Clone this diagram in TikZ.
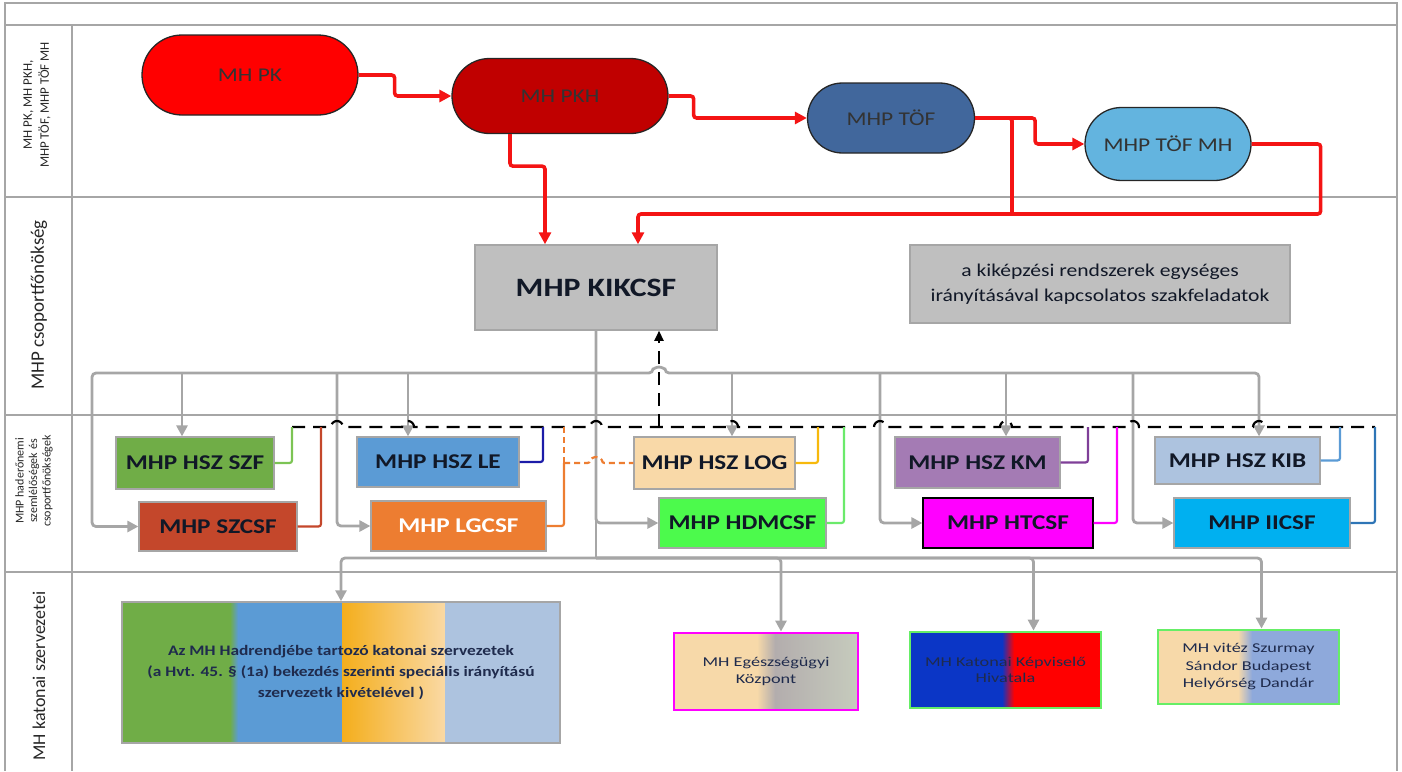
\documentclass[tikz,border=0pt]{standalone}
\usepackage{fontspec}
\setmainfont{Carlito}[FakeStretch=1.2]
\newfontfamily\lanefont{Carlito}
\newfontfamily\widefont{Carlito}[FakeStretch=1.35]
\usetikzlibrary{positioning,calc,shapes.misc,arrows.meta}

\definecolor{cframe}{HTML}{A6A6A6}
\definecolor{cred}{HTML}{F41414}
\definecolor{cpk}{HTML}{FF0000}
\definecolor{cpkh}{HTML}{C00000}
\definecolor{ctof}{HTML}{41679C}
\definecolor{ctofmh}{HTML}{63B4DF}
\definecolor{cbox}{HTML}{BFBFBF}
\definecolor{cink}{HTML}{111827}
\definecolor{cszf}{HTML}{70AD47}
\definecolor{cszcsf}{HTML}{C4472B}
\definecolor{cle}{HTML}{5B9BD5}
\definecolor{clg}{HTML}{ED7D31}
\definecolor{clog}{HTML}{F9D9A8}
\definecolor{chdm}{HTML}{4CFA4C}
\definecolor{ckm}{HTML}{A47BB4}
\definecolor{cht}{HTML}{FF00FF}
\definecolor{ckib}{HTML}{ADC3DF}
\definecolor{cii}{HTML}{00B0F0}
\definecolor{fszf}{HTML}{7CC454}
\definecolor{fle}{HTML}{1C1CA8}
\definecolor{flog}{HTML}{F7B90C}
\definecolor{fhdm}{HTML}{6BEA6B}
\definecolor{fkm}{HTML}{7F3F98}
\definecolor{fii}{HTML}{2E75B6}
\definecolor{cgold}{HTML}{F4AE1C}
\definecolor{cpeach}{HTML}{FAD9A4}
\definecolor{cwarm}{HTML}{F7D9A9}
\definecolor{cgraybrown}{HTML}{B3ADAD}
\definecolor{csage}{HTML}{C6CBBD}
\definecolor{croyal}{HTML}{0B36C6}
\definecolor{csteel}{HTML}{8EA9DB}
\definecolor{crim}{HTML}{66EE66}
\definecolor{cnavy}{HTML}{1F2B4D}

\tikzstyle{lane}=[rotate=90,align=center,text=black!85]
\tikzstyle{chief}=[rounded rectangle,draw=black!85,line width=1.3pt,inner sep=0pt,font=\fontsize{19.5}{22}\selectfont,text=black!80]
\tikzstyle{greybox}=[rectangle,draw=cframe,fill=cbox,line width=1.5pt,inner sep=0pt,align=center,text=cink]
\tikzstyle{unit}=[rectangle,draw=cframe,line width=1.2pt,inner sep=0pt,font=\bfseries\fontsize{21}{24}\selectfont,text=cink]
\tikzstyle{org}=[rectangle,line width=2.8pt,inner sep=0pt,align=center,text=cnavy,font=\widefont\fontsize{13.5}{16.5}\selectfont]
\tikzstyle{redline}=[draw=cred,line width=3.6pt,rounded corners=3pt]
\tikzstyle{redarrow}=[redline,-{Triangle[length=12pt,width=12pt]}]
\tikzstyle{grayline}=[draw=cframe,line width=2.8pt,rounded corners=4pt]
\tikzstyle{grayarrow}=[grayline,-{Triangle[length=11pt,width=11pt]}]
\tikzstyle{feed}=[line width=2.2pt,rounded corners=2.5pt]
\tikzstyle{dashline}=[draw=black,line width=2.2pt,dash pattern=on 13pt off 8pt]

\begin{document}
\begin{tikzpicture}[x=1pt,y=-1pt]
\useasboundingbox (0,0) rectangle (1402,771);
% swimlanes
\draw[cframe,line width=1.8pt] (5,771) -- (5,3) -- (1397,3) -- (1397,771);
\foreach \y in {25,197,415,572}
  \draw[cframe,line width=1.8pt] (5,\y) -- (1397,\y);
\draw[cframe,line width=1.8pt] (72,25) -- (72,771);

\node[lane,font=\lanefont\fontsize{13}{17}\selectfont] (lane1) at (37,105) {MH PK, MH PKH,\\MHP TÖF, MHP TÖF MH};
\node[lane,font=\lanefont\fontsize{19}{22}\selectfont] (lane2) at (39,305) {MHP csoportfőnökség};
\node[lane,font=\lanefont\fontsize{12}{13.5}\selectfont] (lane3) at (34,481) {MHP haderőnemi\\szemlélőségek és\\csoportfőnökségek};
\node[lane,font=\lanefont\fontsize{18}{21}\selectfont] (lane4) at (39,676) {MH katonai szervezetei};

% leadership
\node[chief,fill=cpk,minimum width=216pt,minimum height=80pt] (pk) at (250,75) {MH PK};
\node[chief,fill=cpkh,minimum width=216pt,minimum height=75pt] (pkh) at (560,96) {MH PKH};
\node[chief,fill=ctof,minimum width=167pt,minimum height=70pt] (tof) at (891,118) {MHP TÖF};
\node[chief,fill=ctofmh,minimum width=166pt,minimum height=73pt] (tofmh) at (1168,144) {MHP TÖF MH};

% group chief
\node[greybox,minimum width=242pt,minimum height=85pt,font=\bfseries\fontsize{26.5}{30}\selectfont] (kikcsf) at (596,287.5) {MHP KIKCSF};
\node[greybox,minimum width=380pt,minimum height=78pt,font=\fontsize{18}{25}\selectfont] (feladat) at (1100,284) {a kiképzési rendszerek egységes\\irányításával kapcsolatos szakfeladatok};

% inspectorates
\node[unit,fill=cszf,minimum width=158pt,minimum height=52pt] (szf) at (195,463) {MHP HSZ SZF};
\node[unit,fill=cszcsf,minimum width=158pt,minimum height=49pt] (szcsf) at (218,526.5) {MHP SZCSF};
\node[unit,fill=cle,minimum width=162pt,minimum height=50pt] (le) at (438,462) {MHP HSZ LE};
\node[unit,fill=clg,minimum width=175pt,minimum height=50pt,text=white] (lgcsf) at (458.5,526) {MHP LGCSF};
\node[unit,fill=clog,minimum width=161pt,minimum height=52pt] (log) at (714.5,463) {MHP HSZ LOG};
\node[unit,fill=chdm,minimum width=167pt,minimum height=50pt] (hdmcsf) at (742.5,523) {MHP HDMCSF};
\node[unit,fill=ckm,minimum width=165pt,minimum height=51pt] (km) at (977.5,462.5) {MHP HSZ KM};
\node[unit,fill=cht,draw=black,minimum width=170pt,minimum height=50pt] (htcsf) at (1008,523) {MHP HTCSF};
\node[unit,fill=ckib,minimum width=165pt,minimum height=47pt] (kib) at (1237.5,460.5) {MHP HSZ KIB};
\node[unit,fill=cii,minimum width=176pt,minimum height=50pt] (iicsf) at (1262,523) {MHP IICSF};

% military organisations
\node[org,draw=cframe,line width=1.5pt,minimum width=438pt,minimum height=141pt,font=\bfseries\fontsize{14.5}{21.5}\selectfont,
  path picture={
    \coordinate (p) at (path picture bounding box.north west);
    \fill[cszf] (p) rectangle ++(108,141);
    \shade[left color=cszf,right color=cle] ($(p)+(108,0)$) rectangle ++(8,141);
    \fill[cle] ($(p)+(116,0)$) rectangle ++(104,141);
    \shade[left color=cgold,right color=cpeach] ($(p)+(220,0)$) rectangle ++(103,141);
    \fill[ckib] ($(p)+(323,0)$) rectangle ++(115,141);
  }] (hadrend) at (341,672.5) {Az MH Hadrendjébe tartozó katonai szervezetek\\(a Hvt. 45. § (1a) bekezdés szerinti speciális irányítású\\szervezetk kivételével )};
\node[org,draw=cht,minimum width=184pt,minimum height=77pt,
  path picture={
    \coordinate (p) at (path picture bounding box.north west);
    \fill[cwarm] (p) rectangle ++(83,77);
    \shade[left color=cwarm,right color=cgraybrown] ($(p)+(83,0)$) rectangle ++(18,77);
    \shade[left color=cgraybrown,right color=csage] ($(p)+(101,0)$) rectangle ++(83,77);
  }] (egeszseg) at (766,671.5) {MH Egészségügyi\\Központ};
\node[org,draw=crim,minimum width=191pt,minimum height=76pt,
  path picture={
    \coordinate (p) at (path picture bounding box.north west);
    \fill[croyal] (p) rectangle ++(92,76);
    \shade[left color=croyal,right color=cpk] ($(p)+(92,0)$) rectangle ++(12,76);
    \fill[cpk] ($(p)+(104,0)$) rectangle ++(87,76);
  }] (kepvis) at (1005.5,670) {MH Katonai Képviselő\\Hivatala};
\node[org,draw=crim,minimum width=181pt,minimum height=74pt,font=\widefont\fontsize{13.5}{17.5}\selectfont,
  path picture={
    \coordinate (p) at (path picture bounding box.north west);
    \fill[cwarm] (p) rectangle ++(80,74);
    \shade[left color=cwarm,right color=csteel] ($(p)+(80,0)$) rectangle ++(14,74);
    \fill[csteel] ($(p)+(94,0)$) rectangle ++(87,74);
  }] (szurmay) at (1248.5,667) {MH vitéz Szurmay\\Sándor Budapest\\Helyőrség Dandár};

% red chain of command
\draw[redarrow] (pk.east) -- ++(36,0) |- (pkh.west);
\draw[redarrow] (pkh.east) -- ++(25,0) |- (tof.west);
\draw[redarrow] (tof.east) -- ++(60,0) |- (tofmh.west);
\coordinate (redjoin) at (1012,214);
\draw[redline] (tof.east) -| (redjoin);
\draw[redarrow] (tofmh.east) -- ++(69,0) |- (redjoin) -| ([xshift=42pt]kikcsf.north);
\draw[redarrow] ([xshift=-50pt]pkh.south) -- ++(0,32) -| ([xshift=-51pt]kikcsf.north);

% grey control lines
\coordinate (bus) at (596,373);
\coordinate (dszl) at (92,373);
\coordinate (dlg) at (337,373);
\coordinate (dht) at (880,373);
\coordinate (dii) at (1133,373);
\coordinate (dkib) at (1259,373);
\coordinate (botbus) at (596,558);
\draw[grayline] (kikcsf.south) -- (botbus);
\draw[grayarrow] (bus) -- (dszl) |- (szcsf.west);
\draw[grayarrow] (bus) -- ++(57,0) arc[start angle=180,end angle=360,radius=6] -- (dkib) -- (dkib |- kib.north);
\foreach \n/\x in {szf/182,le/408,log/732,km/1006}{
  \coordinate (d\n) at (\x,373);
  \draw[grayarrow] (d\n) -- (d\n |- \n.north);
}
\foreach \d/\n in {dlg/lgcsf,dht/htcsf,dii/iicsf}
  \draw[grayarrow] (\d) |- (\n.west);
\draw[grayarrow] (kikcsf.south) |- (hdmcsf.west);
\draw[grayarrow] (botbus) -| (hadrend.north);
\foreach \n/\dx in {egeszseg/15,kepvis/28,szurmay/13}
  \draw[grayarrow] (botbus) -| ([xshift=\dx pt]\n.north);

% reporting lines
\foreach \n/\x in {szf/292,szcsf/321,le/543,log/818,hdmcsf/844,km/1088,htcsf/1117,kib/1340,iicsf/1375}
  \coordinate (b\n) at (\x,427);
\draw[dashline] (bszf) foreach \x in {337,408,596,732,880,1006,1133,1259} { -- (\x-6,427) arc[start angle=180,end angle=360,radius=6] } -- (biicsf);
\foreach \n/\c in {szf/fszf,szcsf/cszcsf,le/fle,log/flog,hdmcsf/fhdm,km/fkm,htcsf/cht,kib/cle,iicsf/fii}
  \draw[feed,draw=\c] (\n.east) -| (b\n);
\coordinate (lgknee) at (564,463);
\coordinate (blgcsf) at (564,427);
\draw[feed,draw=clg] (lgcsf.east) -| (lgknee);
\draw[feed,draw=clg,dash pattern=on 6pt off 4pt] (lgknee) -- (blgcsf);
\draw[feed,draw=clg,dash pattern=on 6pt off 4pt] (lgknee) -- ++(26,0) arc[start angle=180,end angle=360,radius=6] -- (log.west);
\coordinate (upfoot) at (659,427);
\draw[dashline,-{Triangle[length=10pt,width=9pt]}] (upfoot) -- (upfoot |- kikcsf.south);
\end{tikzpicture}
\end{document}
